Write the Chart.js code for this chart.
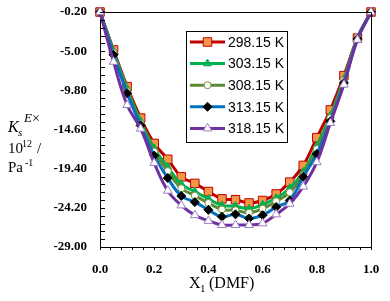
<!DOCTYPE html>
<html>
<head>
<meta charset="utf-8">
<script src="https://cdn.jsdelivr.net/npm/chart.js@4.4.1/dist/chart.umd.min.js"></script>
<style>
  html, body { margin: 0; padding: 0; background: #fff; }
  #wrap { width: 390px; height: 301px; }
</style>
</head>
<body>
<div id="wrap"><canvas id="kseChart" width="390" height="301"></canvas></div>
<script>
// mole fraction of DMF
const moleFractions = [0, 0.05, 0.10, 0.15, 0.20, 0.25, 0.30, 0.35, 0.40, 0.45, 0.50,
                       0.55, 0.60, 0.65, 0.70, 0.75, 0.80, 0.85, 0.90, 0.95, 1.0];

const temperatures = ['298.15 K', '303.15 K', '308.15 K', '313.15 K', '318.15 K'];

// K_s^E x 10^12 / Pa^-1
const ks298 = [-0.2, -4.85, -9.35, -13.2, -16.3, -18.25, -20.4, -21.2, -22.2, -23.1, -23.2,
               -23.6, -23.3, -22.5, -21.05, -19.0, -15.6, -12.2, -8.0, -3.4, -0.2];
const ks303 = [-0.2, -5.0, -9.6, -13.6, -16.9, -19.2, -21.3, -22.2, -23.1, -23.9, -24.0,
               -24.3, -23.8, -23.0, -21.8, -19.8, -16.6, -12.9, -8.4, -3.5, -0.2];
const ks308 = [-0.2, -5.2, -9.9, -13.9, -17.3, -19.7, -21.8, -22.7, -23.6, -24.4, -24.5,
               -24.8, -24.3, -23.4, -22.3, -20.2, -17.0, -13.2, -8.6, -3.3, -0.2];
const ks313 = [-0.2, -5.45, -10.15, -14.1, -17.8, -20.55, -22.75, -23.5, -24.45, -25.3, -25.0,
               -25.5, -25.1, -24.1, -23.3, -20.4, -17.6, -13.6, -8.9, -3.5, -0.2];
const ks318 = [-0.2, -6.3, -11.6, -14.5, -18.7, -22.1, -23.9, -25.1, -25.8, -26.3, -26.3,
               -26.3, -26.1, -25.0, -23.7, -21.6, -18.6, -13.8, -9.1, -3.6, -0.2];

const allSeries = [ks298, ks303, ks308, ks313, ks318];

// axis range / tick labels
const yMin = -29.0, yMax = -0.2, yStep = 0.96;
const xMin = 0, xMax = 1, xStep = 0.04;

const styles = [
    { line: '#C00000', fill: '#F79646', edge: '#C00000', shape: 'rect', r: 6 },
    { line: '#00B050', fill: '#00B050', edge: '#00B050', shape: 'triangle', r: 4.5 },
    { line: '#5A8A35', fill: '#FFFFFF', edge: '#77933C', shape: 'circle', r: 3.5 },
    { line: '#0070C0', fill: '#000000', edge: '#000000', shape: 'rectRot', r: 4.5 },
    { line: '#7030A0', fill: '#FFFFFF', edge: '#9B7FC4', shape: 'triangle', r: 5 }
];

const datasets = allSeries.map((vals, i) => ({
    label: temperatures[i],
    data: moleFractions.map((x, j) => ({ x: x, y: vals[j] })),
    borderColor: styles[i].line,
    borderWidth: 3,
    backgroundColor: styles[i].fill,
    pointStyle: styles[i].shape,
    pointRadius: styles[i].r,
    pointBackgroundColor: styles[i].fill,
    pointBorderColor: styles[i].edge,
    pointBorderWidth: 1,
    tension: 0.4,
    fill: false,
    clip: false,
    order: allSeries.length - 1 - i
}));

// frame, inward y ticks, titles and the boxed legend
const extrasPlugin = {
    id: 'extras',
    afterDraw(chart) {
        const ctx = chart.ctx;
        const area = chart.chartArea;
        const ys = chart.scales.y;
        ctx.save();
        ctx.strokeStyle = '#000';
        ctx.lineWidth = 1;
        ctx.beginPath();
        ctx.moveTo(area.left, area.top + 0.5);
        ctx.lineTo(area.right + 0.5, area.top + 0.5);
        ctx.lineTo(area.right + 0.5, area.bottom);
        ctx.stroke();
        ys.ticks.forEach(t => {
            const py = Math.round(ys.getPixelForValue(t.value)) + 0.5;
            ctx.beginPath();
            ctx.moveTo(area.left, py);
            ctx.lineTo(area.left + 5, py);
            ctx.stroke();
        });

        // y title
        ctx.fillStyle = '#000';
        ctx.textBaseline = 'alphabetic';
        ctx.textAlign = 'left';
        ctx.font = 'italic 16px "Liberation Serif"';
        ctx.fillText('K', 8, 132);
        ctx.font = 'italic 11px "Liberation Serif"';
        ctx.fillText('s', 18, 136);
        ctx.font = 'italic 13px "Liberation Serif"';
        ctx.fillText('E', 24, 122);
        ctx.font = '14px "Liberation Serif"';
        ctx.fillText('\u00d7', 32, 123);
        ctx.font = '15px "Liberation Serif"';
        ctx.fillText('10', 8, 153);
        ctx.font = '10px "Liberation Serif"';
        ctx.fillText('12', 22, 147);
        ctx.font = '15px "Liberation Serif"';
        ctx.fillText('/', 37, 153);
        ctx.fillText('Pa', 8, 172);
        ctx.font = '10px "Liberation Serif"';
        ctx.fillText('-1', 25, 166);

        // x title
        ctx.font = '16px "Liberation Serif"';
        ctx.fillText('X', 189, 288);
        ctx.font = '11px "Liberation Serif"';
        ctx.fillText('1', 200, 292);
        ctx.font = '16px "Liberation Serif"';
        ctx.fillText(' (DMF)', 205, 288);

        // legend
        const lx = 186, ly = 31, lw = 101, lh = 111;
        ctx.fillStyle = '#fff';
        ctx.fillRect(lx, ly, lw, lh);
        ctx.strokeStyle = '#000';
        ctx.strokeRect(lx + 0.5, ly + 0.5, lw, lh);
        chart.data.datasets.forEach((ds, i) => {
            const rowY = 42 + i * 21.6;
            ctx.strokeStyle = ds.borderColor;
            ctx.lineWidth = 3;
            ctx.beginPath();
            ctx.moveTo(190, rowY);
            ctx.lineTo(225, rowY);
            ctx.stroke();
            ctx.fillStyle = ds.pointBackgroundColor;
            ctx.strokeStyle = ds.pointBorderColor;
            ctx.lineWidth = 1;
            Chart.helpers.drawPoint(ctx, { pointStyle: ds.pointStyle, radius: ds.pointRadius, rotation: 0, borderWidth: 1 }, 207.5, rowY);
            ctx.fillStyle = '#000';
            ctx.font = '14px "Liberation Sans"';
            ctx.textBaseline = 'middle';
            ctx.fillText(ds.label, 228, rowY + 1);
        });
        ctx.restore();
    }
};

const ctx = document.getElementById('kseChart').getContext('2d');
const chart = new Chart(ctx, {
    type: 'line',
    data: { datasets: datasets },
    options: {
        responsive: false,
        animation: false,
        devicePixelRatio: 1,
        layout: { autoPadding: false, padding: { top: 12, right: 19, bottom: 0, left: 0 } },
        plugins: {
            legend: { display: false },
            tooltip: { enabled: false }
        },
        scales: {
            x: {
                type: 'linear',
                min: xMin,
                max: xMax,
                afterFit: s => { s.height = 54; s.paddingLeft = 0; s.paddingRight = 0; },
                ticks: {
                    stepSize: xStep,
                    autoSkip: false,
                    maxRotation: 0,
                    padding: 12,
                    color: '#000',
                    font: { family: '"Liberation Serif"', size: 13, weight: 'bold' },
                    callback: (v, i) => (i % 5 === 0 ? Number(v).toFixed(1) : '')
                },
                grid: { drawOnChartArea: false, drawTicks: true, tickLength: 3, color: '#000' },
                border: { display: true, color: '#000', width: 1 }
            },
            y: {
                min: yMin,
                max: yMax,
                afterFit: s => { s.width = 100; s.paddingTop = 0; s.paddingBottom = 0; },
                ticks: {
                    stepSize: yStep,
                    autoSkip: false,
                    padding: 13,
                    color: '#000',
                    font: { family: '"Liberation Serif"', size: 13, weight: 'bold' },
                    callback: (v, i) => (i % 5 === 0 ? Number(v).toFixed(2) : '')
                },
                grid: { display: false, drawTicks: false },
                border: { display: true, color: '#000', width: 1 }
            }
        }
    },
    plugins: [extrasPlugin]
});
</script>
</body>
</html>
